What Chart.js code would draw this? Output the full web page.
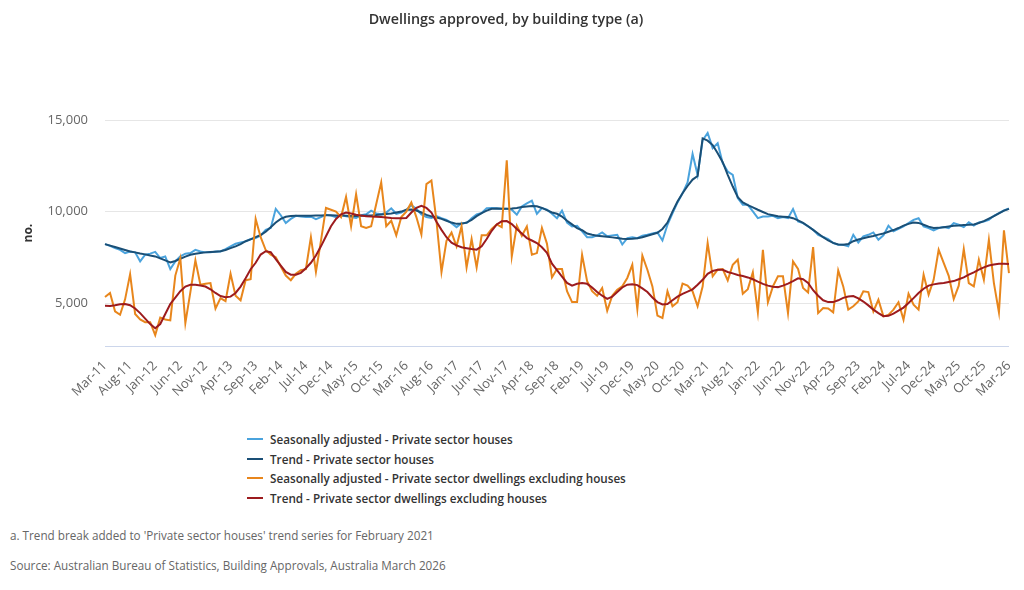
<!DOCTYPE html>
<html><head><meta charset="utf-8">
<script src="https://cdn.jsdelivr.net/npm/chart.js@4.4.0/dist/chart.umd.min.js"></script>
<style>
html,body{margin:0;padding:0;background:#fff;}
#wrap{position:relative;width:1024px;height:590px;overflow:hidden;font-family:'Open Sans',sans-serif;}
#c{position:absolute;left:0;top:0;}
#legend{position:absolute;left:247px;top:429px;}
.li{height:19.7px;display:flex;align-items:center;font-size:11.7px;font-weight:600;color:#333;white-space:nowrap;}
.sw{width:16px;height:2px;margin-right:7px;}
.fn{position:absolute;left:10px;font-size:11.7px;color:#666;white-space:nowrap;}
</style></head><body>
<div id="wrap">
<canvas id="c" width="1024" height="420"></canvas>
<div id="legend"></div>
<div class="fn" id="fn1" style="top:527px"></div>
<div class="fn" id="fn2" style="top:557px"></div>
</div>
<script>
const titleText = "Dwellings approved, by building type (a)";
const footnote = "a. Trend break added to 'Private sector houses' trend series for February 2021";
const source = "Source: Australian Bureau of Statistics, Building Approvals, Australia March 2026";
const yTitle = "no.";
const monthNames = ["Jan","Feb","Mar","Apr","May","Jun","Jul","Aug","Sep","Oct","Nov","Dec"];
const startYear = 2011, startMonth = 2, nMonths = 181;
const categories = [];
for (let k = 0; k < nMonths; k++) {
  const m = (startMonth + k) % 12, y = startYear + Math.floor((startMonth + k) / 12);
  categories.push(monthNames[m] + "-" + String(y % 100).padStart(2, "0"));
}
const yTicks = [5000, 10000, 15000];
const seriesNames = [
  "Seasonally adjusted - Private sector houses",
  "Trend - Private sector houses",
  "Seasonally adjusted - Private sector dwellings excluding houses",
  "Trend - Private sector dwellings excluding houses"
];
const seriesColors = ["#4aa3dd", "#1a4f76", "#e8861c", "#9c1b1e"];

const saHouses = [
8220,8130,8000,7910,7730,7820,7770,7280,7640,7700,7800,7460,7550,6860,7280,7550,7700,7730,7910,7820,7770,7770,7820,7820,7950,8100,8240,8310,8370,8500,
8550,8700,9000,9100,10150,9800,9370,9600,9770,9730,9700,9720,9590,9700,9830,9780,9700,9820,9750,9700,9650,9800,9850,10050,9900,9850,9950,10180,9880,9950,
10100,10350,10150,9850,9700,9650,9750,9640,9550,9370,9150,9370,9370,9640,9850,9920,10190,10200,10180,10150,10150,10100,9830,10280,10450,10600,9880,10190,10100,9880,
9640,10050,9400,9190,9220,8920,8600,8600,8700,8860,8650,8700,8730,8200,8550,8600,8550,8680,8730,8800,8860,8420,9280,9900,10500,11000,11600,13150,12000,13900,
14300,13470,13740,12650,12190,12010,10740,10370,10370,10010,9640,9730,9730,9770,9640,9700,9640,10140,9460,9370,9190,9010,8730,8610,8500,8280,8190,8190,8100,8730,
8310,8650,8730,8860,8460,8700,9230,8920,9050,9190,9370,9550,9640,9190,9100,8970,9100,9150,9100,9370,9280,9150,9410,9230,9410,9460,9550,9770,9920,10060,10170
];
const trendHouses = [
8220,8140,8060,7980,7900,7820,7770,7710,7660,7600,7550,7440,7330,7220,7300,7420,7540,7640,7700,7740,7770,7790,7810,7830,7900,8000,8100,8220,8380,8480,
8600,8720,8900,9150,9400,9600,9720,9760,9770,9770,9770,9770,9780,9790,9800,9800,9790,9780,9770,9760,9760,9770,9780,9790,9810,9840,9870,9900,9950,10000,
10100,10120,10060,9950,9820,9740,9680,9600,9500,9400,9330,9330,9400,9550,9750,9920,10050,10150,10170,10150,10150,10170,10200,10250,10280,10300,10290,10200,10080,9950,
9880,9730,9500,9300,9100,8980,8800,8730,8680,8650,8620,8590,8550,8510,8500,8510,8540,8600,8680,8760,8840,9050,9400,10000,10550,11000,11400,11750,11950,14000,
13880,13640,13190,12700,12010,11370,10790,10500,10350,10230,10100,9980,9860,9800,9740,9720,9700,9640,9520,9380,9200,9000,8800,8600,8420,8290,8200,8190,8230,8380,
8470,8540,8610,8670,8740,8800,8900,8990,9100,9230,9330,9400,9380,9280,9180,9100,9110,9150,9190,9220,9240,9270,9280,9300,9380,9480,9620,9750,9900,10050,10150
];
const saOther = [
5330,5550,4545,4360,5200,6580,4400,4100,3950,3950,3250,4200,4100,4050,6500,7450,3900,5600,7330,6000,6050,6090,4700,5270,5100,6600,5400,5150,6250,6300,
9600,8600,7900,7650,7500,7000,6500,6250,6600,6800,6850,8600,6700,8400,10200,10100,10000,9700,10800,9200,10950,9200,9100,9200,10400,11600,9200,9500,8700,9700,
10000,10500,9700,8750,11500,11700,9500,6700,8400,8850,8100,9200,6950,8500,6950,8700,8700,9050,9300,9150,12800,7550,9230,8680,9190,7640,7730,9100,8250,6400,
6860,6860,5650,5050,5050,7640,6200,5650,5400,5820,4580,5400,5730,5910,6370,7090,4670,7590,6820,5910,4310,4180,5640,4820,5040,6060,5950,5640,4820,5900,
8280,6460,6820,6860,6240,7090,7370,5510,5760,6680,4490,7910,5040,5910,6460,6460,4450,7280,6860,5820,5580,8060,4450,4730,4700,4490,6780,5910,4640,4820,
5090,5640,5600,4540,5180,4270,4350,4640,5040,4090,5510,4910,4640,6550,5460,6270,7910,7200,6490,5220,5950,7950,6090,5910,7370,6270,8460,6090,4490,8970,6640
];
const trendOther = [
4850,4840,4880,4930,4950,4880,4700,4450,4150,3850,3620,3850,4400,4950,5300,5650,5900,6000,6000,5960,5900,5750,5550,5380,5320,5350,5550,5900,6350,6850,
7200,7650,7830,7780,7400,7050,6700,6550,6550,6650,6900,7200,7600,8100,8650,9200,9600,9850,9950,9900,9830,9780,9750,9730,9720,9700,9680,9650,9640,9640,
9650,9950,10200,10320,10200,9950,9450,9000,8600,8300,8150,8050,8000,7950,7920,8100,8500,8950,9300,9470,9480,9320,9050,8800,8550,8420,8280,8050,7750,7150,
6800,6450,6100,5950,6050,6090,6050,5850,5600,5400,5230,5350,5600,5850,6000,6020,5980,5800,5600,5300,5050,4920,4950,5150,5350,5500,5620,5750,6000,6270,
6600,6750,6820,6820,6700,6620,6530,6480,6400,6300,6170,6050,5950,5890,5870,5950,6060,6200,6350,6300,6100,5700,5400,5150,5050,5050,5150,5280,5360,5380,
5250,5080,4870,4640,4450,4280,4300,4420,4580,4750,5000,5270,5550,5780,5950,6020,6070,6100,6150,6200,6300,6400,6550,6680,6830,6950,7050,7110,7150,7150,7130
];

const FONT = "'Open Sans', sans-serif";
const allSeries = [saHouses, trendHouses, saOther, trendOther];
const datasets = allSeries.map((d, k) => ({
  label: seriesNames[k], data: d, borderColor: seriesColors[k], backgroundColor: seriesColors[k],
  borderWidth: 2, pointRadius: 0, tension: 0, fill: false, order: 4 - k
}));

new Chart(document.getElementById('c'), {
  type: 'line',
  data: { labels: categories, datasets },
  options: {
    responsive: false, animation: false,
    layout: { padding: { left: 0, right: 12, top: 0, bottom: 0 } },
    plugins: {
      legend: { display: false }, tooltip: { enabled: false },
      title: { display: true, text: titleText, color: '#333', font: { family: FONT, size: 14.3, weight: '600' }, padding: { top: 11, bottom: 92 } }
    },
    scales: {
      x: {
        grid: { display: false }, border: { display: true, color: '#ccd6eb', width: 1 },
        ticks: { autoSkip: false, maxRotation: 45, minRotation: 45, color: '#666', font: { family: FONT, size: 13 }, padding: 4,
          callback: (v, i) => (i % 5 === 0 ? categories[i] : null) },
        afterFit(s) { s.height = 74; }
      },
      y: {
        min: 2650, max: 15000,
        afterBuildTicks(s) { s.ticks = yTicks.map(v => ({ value: v })); },
        grid: { color: '#e6e6e6', drawTicks: false }, border: { display: false },
        ticks: { color: '#666', font: { family: FONT, size: 13 }, padding: 17, callback: v => Number(v).toLocaleString('en-US') },
        title: { display: true, text: yTitle, color: '#333', font: { family: FONT, size: 12, weight: 'bold' }, padding: { top: 21, bottom: 0 } },
        afterFit(s) { s.width = 105; }
      }
    }
  }
});

const lg = document.getElementById('legend');
seriesNames.forEach((n, k) => {
  const row = document.createElement('div'); row.className = 'li';
  const sw = document.createElement('span'); sw.className = 'sw'; sw.style.background = seriesColors[k];
  const tx = document.createElement('span'); tx.textContent = n;
  row.appendChild(sw); row.appendChild(tx); lg.appendChild(row);
});
document.getElementById('fn1').textContent = footnote;
document.getElementById('fn2').textContent = source;
</script>
</body></html>
